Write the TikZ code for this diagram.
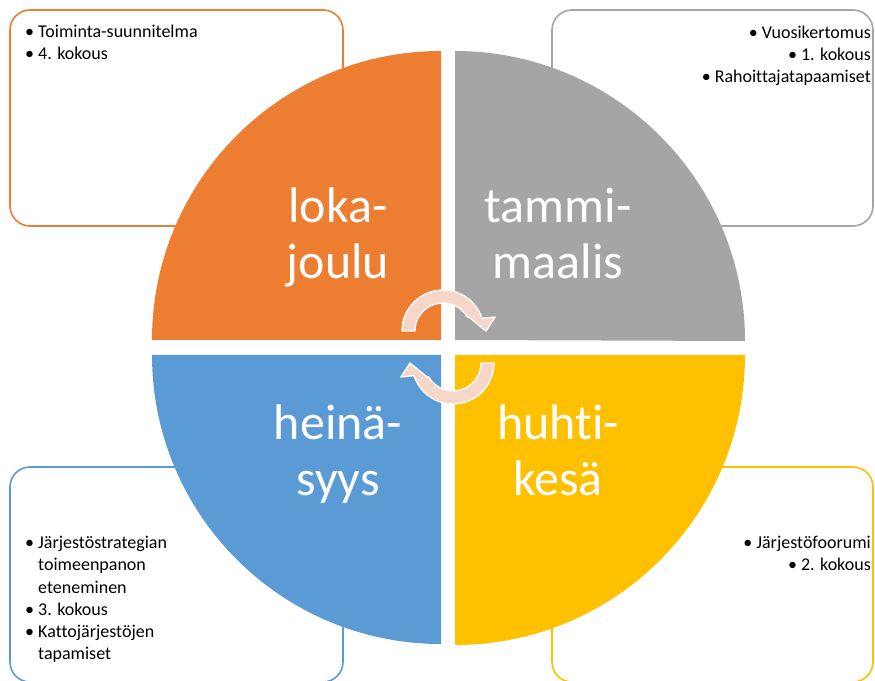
\documentclass[tikz,border=0pt]{standalone}
\usepackage{fontspec}
\setmainfont{Carlito}[Ligatures=NoCommon]
\usepackage{tikz}
\definecolor{lokaorange}{RGB}{237,125,49}
\definecolor{tammigray}{RGB}{165,165,165}
\definecolor{huhtiyellow}{RGB}{255,192,0}
\definecolor{heinablue}{RGB}{91,155,213}
\definecolor{arrowpink}{RGB}{247,214,202}
\newcommand{\bul}{\textbullet\ }
\newcommand{\ind}{\hphantom{\textbullet\ }}
\begin{document}
\begin{tikzpicture}[x=1pt,y=1pt]
\useasboundingbox (0,0) rectangle (875,680);
\tikzstyle{box}=[line width=1.6pt,rounded corners=20pt];
\tikzstyle{note}=[inner sep=0pt,font=\fontsize{18}{22}\selectfont];
\tikzstyle{month}=[inner sep=0pt,align=center,text=white,font=\fontsize{50}{56}\selectfont];
\tikzstyle{turn}=[fill=arrowpink,draw=white,line width=1.3pt,line join=round];
\draw[box,draw=lokaorange](10,454) rectangle (343,670);
\draw[box,draw=tammigray](552,454) rectangle (873,670);
\draw[box,draw=heinablue](10,-2) rectangle (343,213);
\draw[box,draw=huhtiyellow](552,-2) rectangle (873,213);
\fill[lokaorange](441,340)--(152,340) arc[start angle=180,end angle=90,radius=289]--cycle;
\fill[tammigray](455,340)--(455,629) arc[start angle=90,end angle=0,radius=290]--cycle;
\fill[heinablue](441,325)--(441,36) arc[start angle=270,end angle=180,radius=289]--cycle;
\fill[huhtiyellow](455,325)--(745,325) arc[start angle=0,end angle=-90,radius=290]--cycle;
% base = baseline of the last line
\node[month,anchor=base] (L)at(338,401) {loka-\\joulu};
\node[month,anchor=base] (T)at(558,401) {tammi-\\maalis};
\node[month,anchor=base] (H)at(338,184) {heinä-\\syys};
\node[month,anchor=base] (K)at(558,184) {huhti-\\kesä};
\begin{scope}[shift={(443,349)}]
\draw[turn](180:41) arc[start angle=180,end angle=18,radius=41]
	--(15:54)--(0:43)--(28:29.5)--(30:28)
	arc[start angle=30,end angle=180,radius=28]--cycle;
\end{scope}
\begin{scope}[shift={(453,317)},rotate=180]
\draw[turn](180:41) arc[start angle=180,end angle=18,radius=41]
	--(15:54)--(0:43)--(28:29.5)--(30:28)
	arc[start angle=30,end angle=180,radius=28]--cycle;
\end{scope}
\node[note,anchor=base west,align=left] (Lnote)at(25,620)
	{\bul Toiminta-suunnitelma\\\bul 4. kokous};
\node[note,anchor=base east,align=right] (Tnote)at(871,597)
	{\bul Vuosikertomus\\\bul 1. kokous\\\bul Rahoittajatapaamiset};
\node[note,anchor=base west,align=left] (Hnote)at(25,21)
	{\bul Järjestöstrategian\\\ind toimeenpanon\\\ind eteneminen\\
	\bul 3. kokous\\\bul Kattojärjestöjen\\\ind tapamiset};
\node[note,anchor=base east,align=right] (Knote)at(871,109)
	{\bul Järjestöfoorumi\\\bul 2. kokous};
\end{tikzpicture}
\end{document}
